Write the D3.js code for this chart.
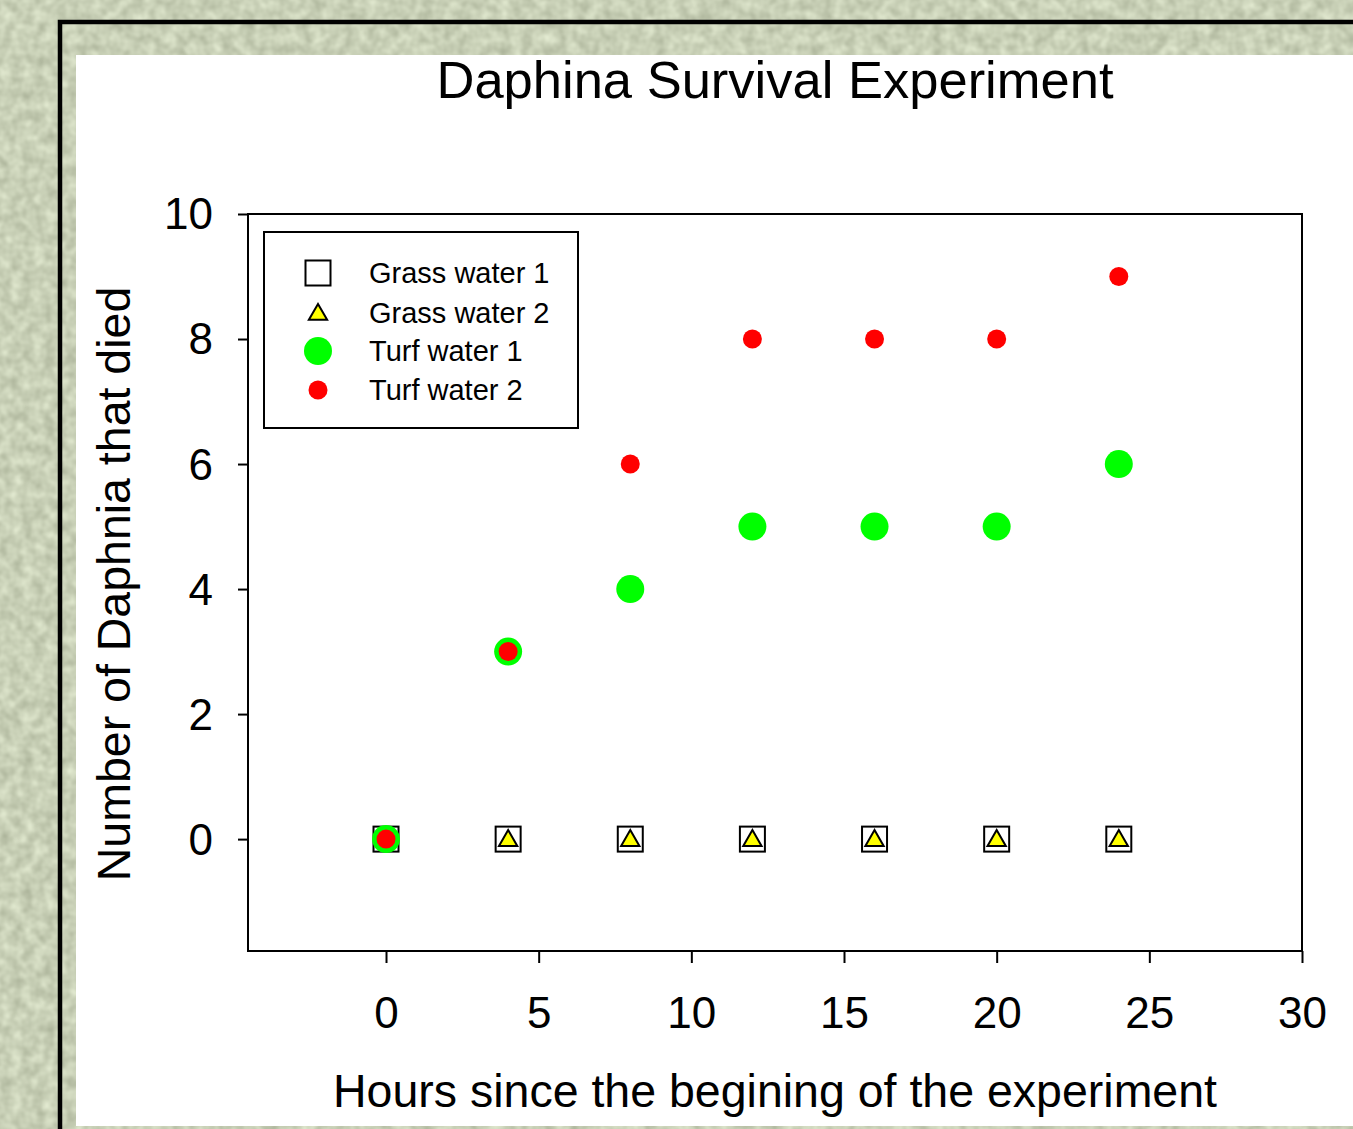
<!DOCTYPE html>
<html>
<head>
<meta charset="utf-8">
<script src="https://cdn.jsdelivr.net/npm/d3@7"></script>
<style>
  html, body { margin: 0; padding: 0; overflow: hidden; background: #c6ceb6; }
  svg { display: block; font-family: "Liberation Sans", Arial, sans-serif; }
</style>
</head>
<body>
<svg></svg>
<script>
const width = 1353;
const height = 1129;

// data
const hours = [0, 4, 8, 12, 16, 20, 24];
const grassWater1 = [0, 0, 0, 0, 0, 0, 0];
const grassWater2 = [0, 0, 0, 0, 0, 0, 0];
const turfWater1 = [0, 3, 4, 5, 5, 5, 6];
const turfWater2 = [0, 3, 6, 8, 8, 8, 9];
const seriesNames = ["Grass water 1", "Grass water 2", "Turf water 1", "Turf water 2"];
const xTicks = [0, 5, 10, 15, 20, 25, 30];
const yTicks = [0, 2, 4, 6, 8, 10];

const svg = d3.select("svg")
  .attr("width", width)
  .attr("height", height);

// grassy background
const defs = svg.append("defs");
const f = defs.append("filter").attr("id", "grain")
  .attr("filterUnits", "userSpaceOnUse")
  .attr("color-interpolation-filters", "sRGB")
  .attr("x", 0).attr("y", 0).attr("width", width).attr("height", height);
f.append("feTurbulence").attr("type", "fractalNoise").attr("baseFrequency", 0.09).attr("numOctaves", 2).attr("seed", 3);
f.append("feColorMatrix").attr("type", "matrix")
  .attr("values", "0.25 0 0 0 0.66  0.25 0 0 0 0.69  0.25 0 0 0 0.59  0 0 0 0 1");

svg.append("rect").attr("width", width).attr("height", height).attr("fill", "#c8d0b9");
svg.append("rect").attr("width", width).attr("height", height).attr("fill", "#c8d0b9").attr("filter", "url(#grain)");

// black frame and white panel
svg.append("rect")
  .attr("x", 60).attr("y", 22).attr("width", 1400).attr("height", 1200)
  .attr("fill", "none").attr("stroke", "#000").attr("stroke-width", 4.5);
svg.append("rect")
  .attr("x", 76).attr("y", 55).attr("width", 1290).attr("height", 1071)
  .attr("fill", "#fff");

const plot = { left: 248, right: 1302, top: 214, bottom: 951 };

const x = d3.scaleLinear().domain([-4.52, 30]).range([plot.left, plot.right]);
const y = d3.scaleLinear().domain([-1.79, 10]).range([plot.bottom, plot.top]);

// plot frame
svg.append("rect")
  .attr("x", plot.left).attr("y", plot.top)
  .attr("width", plot.right - plot.left).attr("height", plot.bottom - plot.top)
  .attr("fill", "none").attr("stroke", "#000").attr("stroke-width", 2);

const xAxis = svg.append("g")
  .attr("transform", `translate(0,${plot.bottom})`)
  .call(d3.axisBottom(x).tickValues(xTicks).tickSize(12).tickPadding(34).tickSizeOuter(0));
const yAxis = svg.append("g")
  .attr("transform", `translate(${plot.left},0)`)
  .call(d3.axisLeft(y).tickValues(yTicks).tickSize(10).tickPadding(25).tickSizeOuter(0));

[xAxis, yAxis].forEach(a => {
  a.select(".domain").remove();
  a.selectAll("line").attr("stroke", "#000").attr("stroke-width", 2);
  a.selectAll("text").attr("fill", "#000").style("font-size", "44px").style("font-family", "Liberation Sans, Arial, sans-serif");
});
xAxis.selectAll("text").attr("dy", "0.71em");
yAxis.selectAll("text").attr("dy", "0.34em");

// titles
svg.append("text")
  .attr("x", 775).attr("y", 98)
  .attr("text-anchor", "middle")
  .style("font-size", "52.5px")
  .text("Daphina Survival Experiment");

svg.append("text")
  .attr("x", 775).attr("y", 1107)
  .attr("text-anchor", "middle")
  .style("font-size", "46.5px")
  .text("Hours since the begining of the experiment");

svg.append("text")
  .attr("transform", `translate(130,584) rotate(-90)`)
  .attr("text-anchor", "middle")
  .style("font-size", "46.5px")
  .text("Number of Daphnia that died");

// markers
const triangle = d3.symbol().type(d3.symbolTriangle).size(145);

function drawSquare(g, cx, cy) {
  g.append("rect")
    .attr("x", cx - 12.5).attr("y", cy - 12.5).attr("width", 25).attr("height", 25)
    .attr("fill", "#fff").attr("stroke", "#000").attr("stroke-width", 2);
}
function drawTriangle(g, cx, cy) {
  g.append("path")
    .attr("d", triangle())
    .attr("transform", `translate(${cx},${cy + 1.5})`)
    .attr("fill", "#ffff00").attr("stroke", "#000").attr("stroke-width", 2);
}
function drawGreen(g, cx, cy) {
  g.append("circle").attr("cx", cx).attr("cy", cy).attr("r", 14).attr("fill", "#00ff00");
}
function drawRed(g, cx, cy) {
  g.append("circle").attr("cx", cx).attr("cy", cy).attr("r", 9.5).attr("fill", "#ff0000");
}
const drawers = [drawSquare, drawTriangle, drawGreen, drawRed];
const series = [grassWater1, grassWater2, turfWater1, turfWater2];

const marks = svg.append("g");
series.forEach((vals, i) => {
  const g = marks.append("g").attr("class", "series-" + i);
  hours.forEach((h, j) => drawers[i](g, x(h), y(vals[j])));
});

// legend
const legend = svg.append("g");
legend.append("rect")
  .attr("x", 264).attr("y", 232).attr("width", 314).attr("height", 196)
  .attr("fill", "#fff").attr("stroke", "#000").attr("stroke-width", 2);
const rowY = [273, 313, 351, 390];
seriesNames.forEach((name, i) => {
  drawers[i](legend, 318, rowY[i]);
  legend.append("text")
    .attr("x", 369).attr("y", rowY[i])
    .attr("dy", "0.36em")
    .style("font-size", "29px")
    .text(name);
});
</script>
</body>
</html>
